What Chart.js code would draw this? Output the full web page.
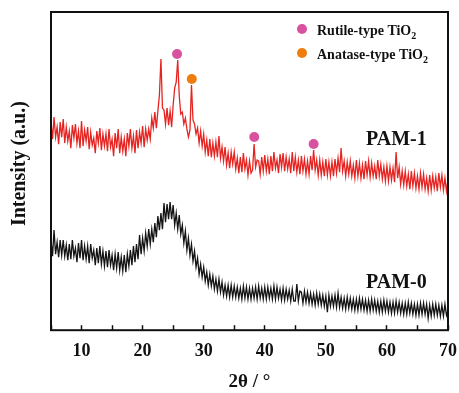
<!DOCTYPE html>
<html>
<head>
<meta charset="utf-8">
<script src="https://cdn.jsdelivr.net/npm/chart.js@4.4.1/dist/chart.umd.min.js"></script>
<style>
  html, body { margin: 0; padding: 0; background: #fff; }
  #wrap { width: 459px; height: 393px; }
</style>
</head>
<body>
<div id="wrap"><canvas id="xrdChart" width="459" height="393"></canvas></div>
<script>
// 2θ sampling grid (degrees)
const X_START = 5;
const X_STEP = 0.25;

// PAM-1 intensity (a.u.), one row per degree: x.00, x.25, x.50, x.75
const pam1 = [
  208,191,213,193, // 5
  203,186,208,193, // 6
  211,187,203,189, // 7
  199,182,205,192, // 8
  206,187,199,182, // 9
  209,184,200,189, // 10
  203,181,198,185, // 11
  192,177,199,187, // 12
  202,180,196,184, // 13
  196,179,201,183, // 14
  191,174,197,182, // 15
  201,177,193,179, // 16
  191,174,197,184, // 17
  201,182,194,177, // 18
  200,182,198,187, // 19
  204,183,201,190, // 20
  201,191,212,202, // 21
  218,202,219,235, // 22
  271,222,220,206, // 23
  222,205,219,203, // 24
  225,242,248,270, // 25
  234,216,218,206, // 26
  212,201,193,200, // 27
  245,210,206,196, // 28
  202,187,199,184, // 29
  196,178,190,174, // 30
  191,173,187,174, // 31
  188,173,194,172, // 32
  183,169,183,165, // 33
  177,162,178,166, // 34
  178,161,172,157, // 35
  173,158,177,161, // 36
  170,155,169,157, // 37
  160,186,163,170, // 38
  169,156,173,159, // 39
  175,159,171,156, // 40
  174,159,178,162, // 41
  170,157,176,163, // 42
  177,159,173,161, // 43
  171,157,178,159, // 44
  173,158,170,156, // 45
  174,159,171,156, // 46
  169,156,174,160, // 47
  180,160,170,155, // 48
  170,155,168,154, // 49
  171,155,168,154, // 50
  168,154,171,157, // 51
  172,158,182,159, // 52
  169,154,168,156, // 53
  169,154,165,152, // 54
  170,154,167,152, // 55
  165,151,169,155, // 56
  169,153,167,154, // 57
  164,151,170,154, // 58
  166,151,163,149, // 59
  164,149,163,150, // 60
  162,148,178,152, // 61
  163,146,159,145, // 62
  159,144,156,141, // 63
  159,144,157,142, // 64
  154,141,157,143, // 65
  156,141,152,139, // 66
  155,140,154,142, // 67
  153,139,157,143, // 68
  155,140,152,139, // 69
  150              // 70
];

// PAM-0 intensity (a.u.)
const pam0 = [
  90,74,100,76,    // 5
  88,73,90,75,     // 6
  90,74,85,70,     // 7
  86,71,90,74,     // 8
  82,68,87,72,     // 9
  90,70,84,71,     // 10
  84,67,86,72,     // 11
  80,65,82,67,     // 12
  84,66,79,64,     // 13
  79,63,80,65,     // 14
  75,60,76,62,     // 15
  78,60,73,59,     // 16
  75,58,76,64,     // 17
  80,65,84,68,     // 18
  86,71,95,76,     // 19
  92,79,97,84,     // 20
  101,86,101,88,   // 21
  107,93,114,100,  // 22
  117,101,127,108, // 23
  126,111,128,111, // 24
  125,105,117,101, // 25
  115,96,105,87,   // 26
  99,80,92,75,     // 27
  86,69,79,63,     // 28
  72,56,66,53,     // 29
  63,49,58,45,     // 30
  56,44,54,41,     // 31
  51,39,51,38,     // 32
  48,35,45,34,     // 33
  45,33,45,33,     // 34
  44,33,43,32,     // 35
  42,31,44,32,     // 36
  43,31,42,31,     // 37
  42,32,43,31,     // 38
  44,32,42,31,     // 39
  43,31,43,32,     // 40
  42,31,44,31,     // 41
  43,32,41,30,     // 42
  42,30,41,31,     // 43
  40,29,41,29,     // 44
  29,46,29,39,     // 45
  38,27,39,28,     // 46
  38,27,37,26,     // 47
  36,25,37,26,     // 48
  36,25,35,24,     // 49
  34,18,35,24,     // 50
  34,24,35,23,     // 51
  37,23,33,22,     // 52
  32,21,33,22,     // 53
  32,21,31,20,     // 54
  31,20,32,21,     // 55
  31,20,30,19,     // 56
  30,19,31,20,     // 57
  30,19,29,18,     // 58
  29,18,30,19,     // 59
  29,18,28,17,     // 60
  28,17,29,18,     // 61
  28,17,27,16,     // 62
  27,16,28,17,     // 63
  27,16,26,15,     // 64
  26,15,27,16,     // 65
  27,16,26,12,     // 66
  25,14,26,15,     // 67
  26,15,25,14,     // 68
  25,14,26,15,     // 69
  20               // 70
];

// peak markers
const rutileX = [25.64, 38.28, 48.0];
const rutileY = [276, 193, 186];
const anataseX = [28.05];
const anataseY = [251];

const xTickValues = [10, 20, 30, 40, 50, 60, 70];

const SERIF = "'Liberation Serif', 'Times New Roman', serif";
const RED = '#e52421';
const PINK = '#d9529f';
const ORANGE = '#ef7d0e';

function toPoints(values) {
  return values.map((v, i) => ({ x: X_START + i * X_STEP, y: v }));
}

function toPairs(xs, ys) {
  return xs.map((x, i) => ({ x: x, y: ys[i] }));
}

// frame, legend and curve labels
const decorPlugin = {
  id: 'decor',
  afterDraw(chart) {
    const { ctx, chartArea } = chart;
    const { left, top, right, bottom } = chartArea;
    ctx.save();

    // box round the plot
    ctx.strokeStyle = '#111';
    ctx.lineWidth = 2;
    ctx.strokeRect(left, top, right - left, bottom - top);

    // legend (top right)
    const rows = [
      { color: PINK, text: 'Rutile-type TiO', y: 17 },
      { color: ORANGE, text: 'Anatase-type TiO', y: 41 }
    ];
    rows.forEach(row => {
      const cy = top + row.y;
      ctx.fillStyle = row.color;
      ctx.beginPath();
      ctx.arc(right - 146, cy, 5, 0, Math.PI * 2);
      ctx.fill();

      ctx.fillStyle = '#111';
      ctx.textAlign = 'left';
      ctx.textBaseline = 'alphabetic';
      ctx.font = `bold 14px ${SERIF}`;
      const tx = right - 131;
      ctx.fillText(row.text, tx, cy + 6);
      const w = ctx.measureText(row.text).width;
      ctx.font = `bold 10px ${SERIF}`;
      ctx.fillText('2', tx + w, cy + 10);
    });

    // curve labels
    ctx.font = `bold 20px ${SERIF}`;
    ctx.fillStyle = '#111';
    ctx.textAlign = 'left';
    ctx.textBaseline = 'alphabetic';
    ctx.fillText('PAM-1', right - 82, top + 133);
    ctx.fillText('PAM-0', right - 82, top + 276);

    ctx.restore();
  }
};

const chartCtx = document.getElementById('xrdChart').getContext('2d');
new Chart(chartCtx, {
  type: 'line',
  data: {
    datasets: [
      {
        label: 'Rutile-type TiO2',
        type: 'scatter',
        data: toPairs(rutileX, rutileY),
        backgroundColor: PINK,
        borderColor: PINK,
        pointRadius: 5,
        pointBorderWidth: 0,
        showLine: false
      },
      {
        label: 'Anatase-type TiO2',
        type: 'scatter',
        data: toPairs(anataseX, anataseY),
        backgroundColor: ORANGE,
        borderColor: ORANGE,
        pointRadius: 5,
        pointBorderWidth: 0,
        showLine: false
      },
      {
        label: 'PAM-1',
        data: toPoints(pam1),
        borderColor: RED,
        borderWidth: 1.3,
        pointRadius: 0,
        tension: 0
      },
      {
        label: 'PAM-0',
        data: toPoints(pam0),
        borderColor: '#141414',
        borderWidth: 1.3,
        pointRadius: 0,
        tension: 0
      }
    ]
  },
  options: {
    responsive: false,
    animation: false,
    events: [],
    layout: {
      padding: { left: 8, right: 11, top: 12, bottom: 0 }
    },
    plugins: {
      legend: { display: false },
      tooltip: { enabled: false }
    },
    scales: {
      x: {
        type: 'linear',
        min: 5,
        max: 70,
        border: { display: false },
        grid: {
          display: true,
          drawOnChartArea: false,
          drawTicks: true,
          tickLength: -5,   // ticks point into the plot
          tickWidth: 1.5,
          tickColor: '#111'
        },
        ticks: {
          stepSize: 5,
          padding: 2,
          color: '#111',
          font: { family: SERIF, size: 18, weight: 'bold', lineHeight: '48px' },
          maxRotation: 0,
          callback: (value) => (xTickValues.includes(value) ? String(value) : '')
        },
        title: {
          display: true,
          text: '2θ / °',
          color: '#111',
          font: { family: SERIF, size: 19, weight: 'bold' },
          padding: { top: -7, bottom: 0 }
        }
      },
      y: {
        type: 'linear',
        min: 0,
        max: 318,
        border: { display: false },
        grid: { display: false, drawTicks: false },
        ticks: { display: false },
        title: {
          display: true,
          text: '   Intensity (a.u.)',
          color: '#111',
          font: { family: SERIF, size: 20, weight: 'bold' },
          padding: { top: 0, bottom: 19 }
        }
      }
    }
  },
  plugins: [decorPlugin]
});
</script>
</body>
</html>
